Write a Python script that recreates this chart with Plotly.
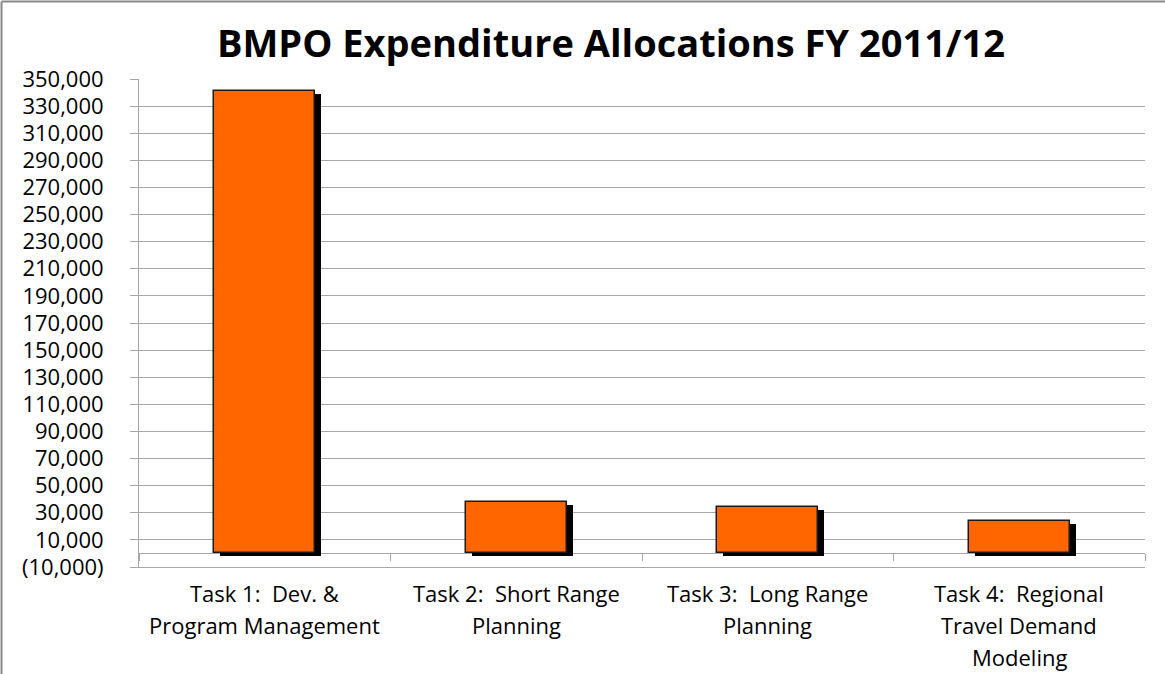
import plotly.graph_objects as go

# ---- data ----
categories = [
    "Task 1:  Dev. &<br>Program Management",
    "Task 2:  Short Range<br>Planning",
    "Task 3:  Long Range<br>Planning",
    "Task 4:  Regional<br>Travel Demand<br>Modeling",
]
allocations = [341000, 38000, 34000, 24000]
tick_values = [-10000, 10000, 30000, 50000, 70000, 90000, 110000, 130000, 150000,
               170000, 190000, 210000, 230000, 250000, 270000, 290000, 310000,
               330000, 350000]
tick_labels = ["(10,000)", "10,000", "30,000", "50,000", "70,000", "90,000",
               "110,000", "130,000", "150,000", "170,000", "190,000", "210,000",
               "230,000", "250,000", "270,000", "290,000", "310,000", "330,000",
               "350,000"]
title_text = "BMPO Expenditure Allocations FY 2011/12"

# ---- layout geometry ----
W, H = 1165, 674
ML, MR, MT, MB = 139, 20, 79, 107
PW, PH = W - ML - MR, H - MT - MB
YMIN, YMAX = tick_values[0], tick_values[-1]
px_per_unit = PH / (YMAX - YMIN)

FONT = "Open Sans"
GRID = "#A6A6A6"
n = len(categories)
idx = list(range(n))

bar_w = 0.4
shadow_dx = 6 / (PW / n)          # category units
shadow_dy = 3 / px_per_unit        # data units

fig = go.Figure()
# shadow
fig.add_trace(go.Bar(
    x=idx, y=allocations, base=[-shadow_dy] * n,
    width=bar_w, offset=-bar_w / 2 + shadow_dx,
    marker=dict(color="#000000", line=dict(width=0)),
    hoverinfo="skip", showlegend=False,
))
# main bars
fig.add_trace(go.Bar(
    x=idx, y=allocations,
    width=bar_w, offset=-bar_w / 2,
    marker=dict(color="#FF6600", line=dict(color="#1a1a1a", width=1.5)),
    showlegend=False,
))

# category labels, one annotation per line
annotations = []
LINE_H = 32
FIRST = 26
for i, cat in enumerate(categories):
    for j, line in enumerate(cat.split("<br>")):
        annotations.append(dict(
            x=i, xref="x", y=0, yref="paper", yanchor="middle", xanchor="center",
            yshift=-(FIRST + j * LINE_H), showarrow=False, text=line,
            font=dict(family=FONT, size=22, color="#000000"),
        ))

# chart frame (top & left edges visible)
fx0 = (1.5 - ML) / PW
fy1 = 1 + (MT - 1.5) / PH
fx1 = (W - ML) / PW
shapes = [
    dict(type="line", xref="paper", yref="paper", x0=fx0, x1=fx0, y0=-1, y1=fy1,
         line=dict(color="#878787", width=2)),
    dict(type="line", xref="paper", yref="paper", x0=fx0, x1=fx1, y0=fy1, y1=fy1,
         line=dict(color="#878787", width=2)),
]

fig.update_layout(
    width=W, height=H,
    margin=dict(l=ML, r=MR, t=MT, b=MB, pad=0),
    paper_bgcolor="white", plot_bgcolor="white",
    barmode="overlay", bargap=0,
    title=dict(text="<b>" + title_text + "</b>", x=611 / W, xanchor="center",
               xref="container", yref="container", y=1 - 44 / H, yanchor="middle",
               font=dict(family=FONT, size=38, color="#000000")),
    xaxis=dict(range=[-0.5, n - 0.5], showgrid=False, zeroline=False,
               showline=True, linecolor=GRID, linewidth=1,
               showticklabels=False, ticks="", fixedrange=True),
    xaxis2=dict(overlaying="x", anchor="free", position=(0 - YMIN) / (YMAX - YMIN),
                range=[-0.5, n - 0.5], showgrid=False, zeroline=False,
                showline=False, showticklabels=False, ticks="outside",
                tickvals=[i - 0.5 for i in range(n + 1)], ticklen=7,
                tickcolor=GRID, tickwidth=1),
    yaxis=dict(range=[YMIN, YMAX], tickvals=tick_values, ticktext=tick_labels,
               showgrid=True, gridcolor=GRID, gridwidth=1,
               zeroline=True, zerolinecolor=GRID, zerolinewidth=1,
               showline=True, linecolor=GRID, linewidth=1,
               ticks="outside", ticklen=8, tickcolor=GRID,
               ticklabelstandoff=22,
               tickfont=dict(family=FONT, size=22, color="#000000")),
    annotations=annotations,
    shapes=shapes,
)
# invisible trace to activate xaxis2
fig.add_trace(go.Scatter(x=[0], y=[0], xaxis="x2", mode="markers",
                         marker=dict(opacity=0), hoverinfo="skip", showlegend=False))

fig.write_html("out.html", config={"displayModeBar": False})
